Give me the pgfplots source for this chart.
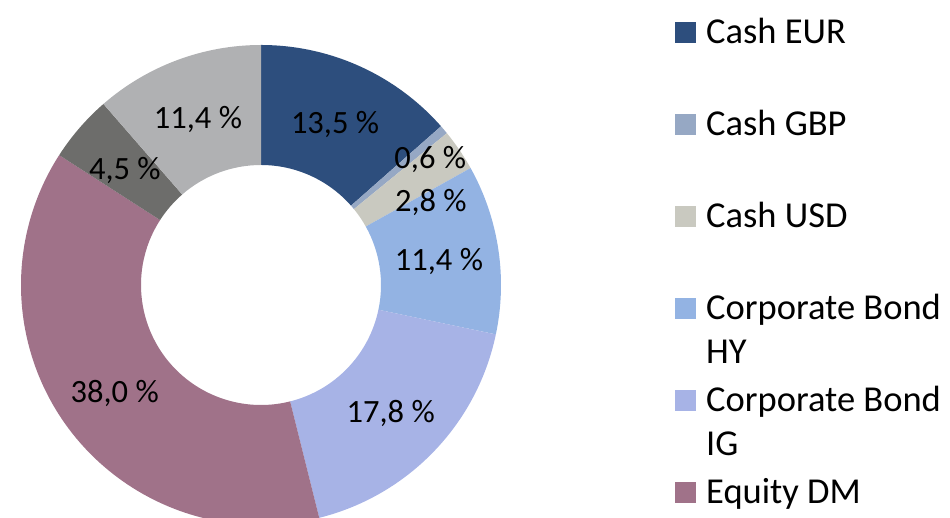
\documentclass[border=0pt]{standalone}
\usepackage{fontspec}
\setmainfont{Carlito}
\usepackage{pgfplots}
\usepackage{pgfplotstable}
\pgfplotsset{compat=1.18}

\definecolor{cEUR}{HTML}{2D4E7D}
\definecolor{cGBP}{HTML}{96A8C4}
\definecolor{cUSD}{HTML}{C9C9C0}
\definecolor{cHY}{HTML}{93B3E3}
\definecolor{cIG}{HTML}{A7B3E6}
\definecolor{cDM}{HTML}{A07289}
\definecolor{cEM}{HTML}{6D6D6B}
\definecolor{cOT}{HTML}{B0B1B3}

\tikzset{lbl/.style={font=\fontsize{32.5}{39}\selectfont, text height=20.5pt, text depth=0pt, inner sep=0pt, anchor=center}}

\pgfplotstableread{
name value col dx dy
CashEUR 13.5 cEUR 0 -2
CashGBP 0.6 cGBP 32 10
CashUSD 2.8 cUSD 21 -17
CorpHY 11.4 cHY 0 -2
CorpIG 17.8 cIG 0 -2
EquityDM 38.0 cDM 0 -2
EquityEM 4.5 cEM 0 -2
Other 11.4 cOT 0 -2
}\allocdata

\begin{document}
\begin{tikzpicture}
\gdef\cum{0}%
\pgfplotsforeachungrouped \i in {0,...,7}{%
  \pgfplotstablegetelem{\i}{value}\of\allocdata
  \let\curv\pgfplotsretval
  \expandafter\xdef\csname v\i\endcsname{\curv}%
  \pgfplotstablegetelem{\i}{col}\of\allocdata
  \expandafter\xdef\csname col\i\endcsname{\pgfplotsretval}%
  \pgfplotstablegetelem{\i}{dx}\of\allocdata
  \expandafter\xdef\csname dx\i\endcsname{\pgfplotsretval}%
  \pgfplotstablegetelem{\i}{dy}\of\allocdata
  \expandafter\xdef\csname dy\i\endcsname{\pgfplotsretval}%
  \pgfmathsetmacro\aS{90-3.6*\cum}%
  \pgfmathsetmacro\cumN{\cum+\curv}%
  \pgfmathsetmacro\aE{90-3.6*\cumN}%
  \pgfmathsetmacro\aM{(\aS+\aE)/2}%
  \expandafter\xdef\csname aS\i\endcsname{\aS}%
  \expandafter\xdef\csname aE\i\endcsname{\aE}%
  \expandafter\xdef\csname aM\i\endcsname{\aM}%
  \xdef\cum{\cumN}%
}%
\begin{axis}[at={(21pt,-7pt)}, anchor=south west, scale only axis,
  width=480pt, height=480pt, xmin=-1, xmax=1, ymin=-1, ymax=1,
  hide axis, clip=false]
\pgfplotsinvokeforeach{0,...,7}{%
  \edef\tmp{\noexpand\fill[\csname col#1\endcsname] (axis cs:0,0) ++(\csname aS#1\endcsname:240pt) arc[start angle=\csname aS#1\endcsname, end angle=\csname aE#1\endcsname, radius=240pt] -- ++(\csname aE#1\endcsname:-120pt) arc[start angle=\csname aE#1\endcsname, end angle=\csname aS#1\endcsname, radius=120pt] -- cycle;}%
  \tmp
}
\pgfplotsinvokeforeach{0,...,7}{%
  \edef\tmp{\noexpand\path (axis cs:0,0) ++(\csname aM#1\endcsname:180pt) ++(\csname dx#1\endcsname pt,\csname dy#1\endcsname pt) node[lbl] {\noexpand\pgfmathprintnumber[fixed,fixed zerofill,precision=1,use comma,assume math mode=true]{\csname v#1\endcsname}\noexpand~\noexpand\%};}%
  \tmp
}
\end{axis}
% legend
\begin{scope}[every node/.style={font=\fontsize{36.5}{44}\selectfont, inner sep=0pt, anchor=base west}]
\fill[cEUR] (675pt,496pt) rectangle (696pt,475pt);
\node at (706pt,474pt) {Cash EUR};
\fill[cGBP] (675pt,404pt) rectangle (696pt,383pt);
\node at (706pt,382pt) {Cash GBP};
\fill[cUSD] (675pt,312pt) rectangle (696pt,291pt);
\node at (706pt,290pt) {Cash USD};
\fill[cHY] (675pt,220pt) rectangle (696pt,199pt);
\node at (706pt,198pt) {Corporate Bond};
\node at (706pt,154pt) {HY};
\fill[cIG] (675pt,128pt) rectangle (696pt,107pt);
\node at (706pt,106pt) {Corporate Bond};
\node at (706pt,62pt) {IG};
\fill[cDM] (675pt,36pt) rectangle (696pt,15pt);
\node at (706pt,14pt) {Equity DM};
\end{scope}
\pgfresetboundingbox
\path[use as bounding box] (0pt,0pt) rectangle (950pt,518pt);
\end{tikzpicture}
\end{document}
